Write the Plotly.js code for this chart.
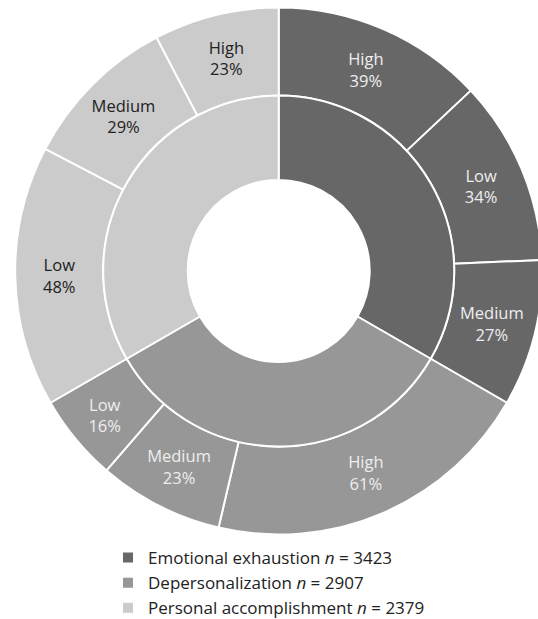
<!DOCTYPE html>
<html>
<head>
<meta charset="utf-8">
<script src="https://cdn.plot.ly/plotly-3.0.1.min.js"></script>
<style>
  html, body { margin: 0; padding: 0; background: #fff; overflow: hidden; }
  #chart { width: 560px; height: 660px; }
</style>
</head>
<body>
<div id="chart"></div>
<script>
// Burnout dimensions and the share of respondents at each level
const groups = ['Emotional exhaustion', 'Depersonalization', 'Personal accomplishment'];
const nValues = [3423, 2907, 2379];

const eeLevels = ['High', 'Low', 'Medium'];
const eePercents = [39, 34, 27];
const dpLevels = ['High', 'Medium', 'Low'];
const dpPercents = [61, 23, 16];
const paLevels = ['Low', 'Medium', 'High'];
const paPercents = [48, 29, 23];

const groupColors = ['#676767', '#979797', '#cbcbcb'];
const labelColors = ['#eeeeee', '#eeeeee', '#222222'];

const levelSets = [eeLevels, dpLevels, paLevels];
const percentSets = [eePercents, dpPercents, paPercents];

// Outer ring: one slice per level, sized by its percentage within the group
const outerLabels = [], outerValues = [], outerText = [], outerColors = [], outerFontColors = [];
levelSets.forEach((levels, g) => {
  levels.forEach((lvl, i) => {
    outerLabels.push(groups[g] + ' – ' + lvl);
    outerValues.push(percentSets[g][i]);
    outerText.push(lvl + '<br>' + percentSets[g][i] + '%');
    outerColors.push(groupColors[g]);
    outerFontColors.push(labelColors[g]);
  });
});

// Inner ring: each group spans the total of its level percentages
const innerValues = percentSets.map(p => p.reduce((a, b) => a + b, 0));
const innerLabels = groups.map((g, i) => g + ' <i>n</i> = ' + nValues[i]);

// Canvas is a little larger than the window so the ring can run past the right edge
const W = 560, H = 660;
const cx = 278.7, cy = 271;
const rOuter = 263.5, rMid = 175.5, rHole = 91;

function domainFor(r) {
  return {
    x: [(cx - r) / W, (cx + r) / W],
    y: [(H - (cy + r)) / H, (H - (cy - r)) / H]
  };
}

const font = 'Open Sans, Noto Sans, sans-serif';

const inner = {
  type: 'pie',
  labels: innerLabels,
  values: innerValues,
  sort: false,
  direction: 'clockwise',
  rotation: 0,
  hole: rHole / rMid,
  domain: domainFor(rMid),
  textinfo: 'none',
  hoverinfo: 'skip',
  marker: { colors: groupColors, line: { color: '#ffffff', width: 2 } },
  showlegend: true
};

const outer = {
  type: 'pie',
  labels: outerLabels,
  values: outerValues,
  text: outerText,
  sort: false,
  direction: 'clockwise',
  rotation: 0,
  hole: rMid / rOuter,
  domain: domainFor(rOuter),
  textinfo: 'text',
  textposition: 'inside',
  insidetextorientation: 'horizontal',
  insidetextfont: { family: font, size: 16.5, color: outerFontColors },
  hoverinfo: 'skip',
  marker: { colors: outerColors, line: { color: '#ffffff', width: 2 } },
  showlegend: false
};

const layout = {
  width: W,
  height: H,
  margin: { l: 0, r: 0, t: 0, b: 0 },
  paper_bgcolor: '#ffffff',
  font: { family: font, color: '#222222' },
  showlegend: true,
  legend: {
    orientation: 'v',
    x: 108 / W,
    xanchor: 'left',
    y: (H - 540) / H,
    yanchor: 'top',
    font: { family: font, size: 17, color: '#222222' },
    bgcolor: 'rgba(0,0,0,0)',
    traceorder: 'normal'
  }
};

Plotly.newPlot('chart', [outer, inner], layout, { staticPlot: true, displayModeBar: false });
</script>
</body>
</html>
